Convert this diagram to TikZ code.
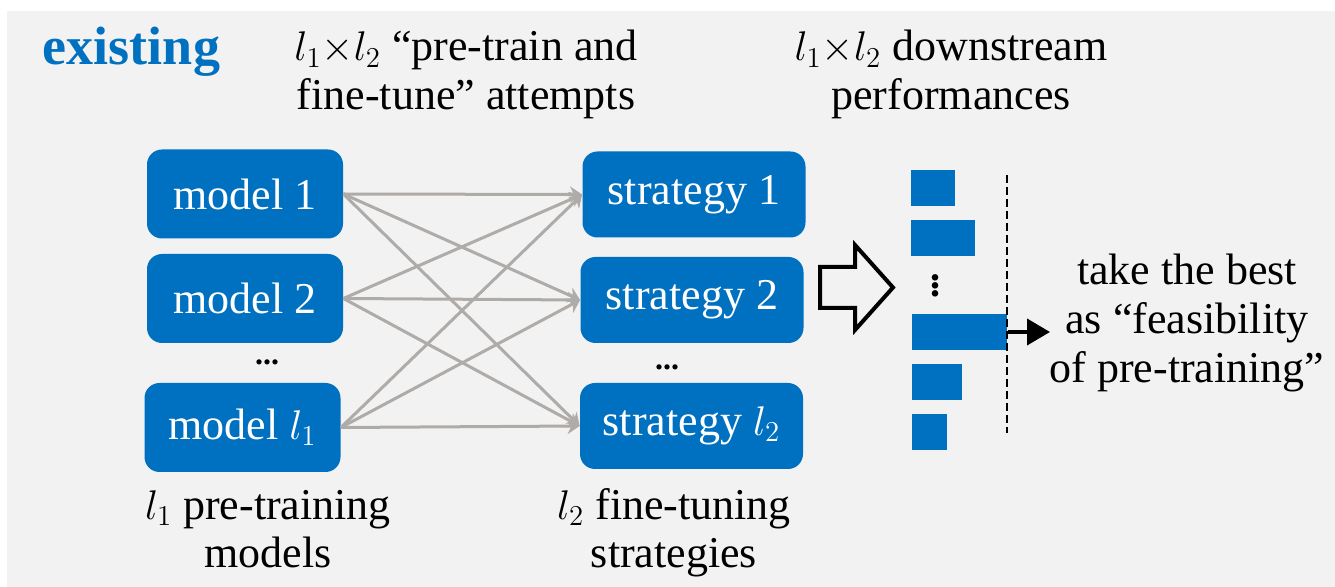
\documentclass[tikz,border=0pt]{standalone}
\usepackage{fontspec}
\setmainfont{Liberation Serif}
\usetikzlibrary{arrows.meta}
\definecolor{boxblue}{RGB}{0,112,192}
\definecolor{bggray}{RGB}{242,242,242}
\definecolor{linkgray}{RGB}{175,171,168}
\tikzset{
	block/.style={fill=boxblue,rounded corners=7.5pt,text=white,inner sep=0pt,font=\fontsize{22}{24}\selectfont},
	modelbox/.style={block,minimum width=98pt,minimum height=44.5pt},
	stratbox/.style={block,minimum width=111.5pt,minimum height=43pt},
	link/.style={draw=linkgray,line width=1.5pt,-{Stealth[length=6pt,width=8pt]}},
	caption/.style={align=center,anchor=base,font=\fontsize{22}{24.5}\selectfont},
	bar/.style={fill=boxblue,anchor=west,minimum height=18pt,inner sep=0pt},
	moredots/.style={font=\bfseries\fontsize{16}{18}\selectfont,inner sep=0pt},
}
\begin{document}
\begin{tikzpicture}[x=0.5pt,y=-0.5pt]
		\useasboundingbox (0,0) rectangle (1335,587);
		\fill[bggray] (7,11) rectangle (1335,587);
		% base of a two-line caption is its last line
		\node[caption,text=boxblue,font=\bfseries\fontsize{27}{30}\selectfont] (title) at (131.5,65) {existing};
		\node[caption] (attempts) at (466,110) {$l_1{\times}l_2$ “pre-train and\\fine-tune” attempts};
		\node[caption] (perf) at (951,110) {$l_1{\times}l_2$ downstream\\performances};
		\node[modelbox] (m1) at (245,194) {model 1};
		\node[modelbox] (m2) at (245,298.5) {model 2};
		\node[modelbox] (m3) at (242.5,427.5) {model $l_1$};
		\node[moredots] (mdots) at (267,362) {...};
		\node[stratbox] (s1) at (694,194.5) {strategy 1};
		\node[stratbox] (s2) at (692,300) {strategy 2};
		\node[stratbox] (s3) at (691.5,426) {strategy $l_2$};
		\node[moredots] (sdots) at (667,367) {...};
		\node[caption] (models) at (268,568) {$l_1$ pre-training\\models};
		\node[caption] (strats) at (674,568) {$l_2$ fine-tuning\\strategies};
		\draw[link] (m1.east) -- (s1.west);
		\draw[link] (m1.east) -- (s2.west);
		\draw[link] (m1.east) -- (s3.west);
		\draw[link] (m2.east) -- (s1.west);
		\draw[link] (m2.east) -- (s2.west);
		\draw[link] (m2.east) -- (s3.west);
		\draw[link] (m3.east) -- (s1.west);
		\draw[link] (m3.east) -- (s2.west);
		\draw[link] (m3.east) -- (s3.west);
		% hollow arrow
		\draw[line width=2pt,line join=miter] (820,267) -- (855,267) -- (855,245) -- (893,287.5) -- (855,330) -- (855,308) -- (820,308) -- cycle;
		\node[bar,minimum width=22pt] (bar1) at (911,188.5) {};
		\node[bar,minimum width=32pt] (bar2) at (911,238.5) {};
		\node[moredots,font=\bfseries\fontsize{20}{22}\selectfont] (vdots) at (935,280) {\vdots};
		\node[bar,minimum width=47.5pt] (best) at (912,332) {};
		\node[bar,minimum width=25pt] (bar4) at (912,382) {};
		\node[bar,minimum width=17.5pt] (bar5) at (912,432) {};
		\draw[line width=1.25pt,dash pattern=on 4pt off 2pt] (1007,175) -- (1007,433);
		\coordinate (tip) at (1050,332);
		\draw[line width=2pt,-{Triangle[length=11.5pt,width=13pt]}] (best.east) -- (tip);
		\node[caption] (takebest) at (1187,383) {take the best\\as “feasibility\\of pre-training”};
	\end{tikzpicture}
\end{document}
